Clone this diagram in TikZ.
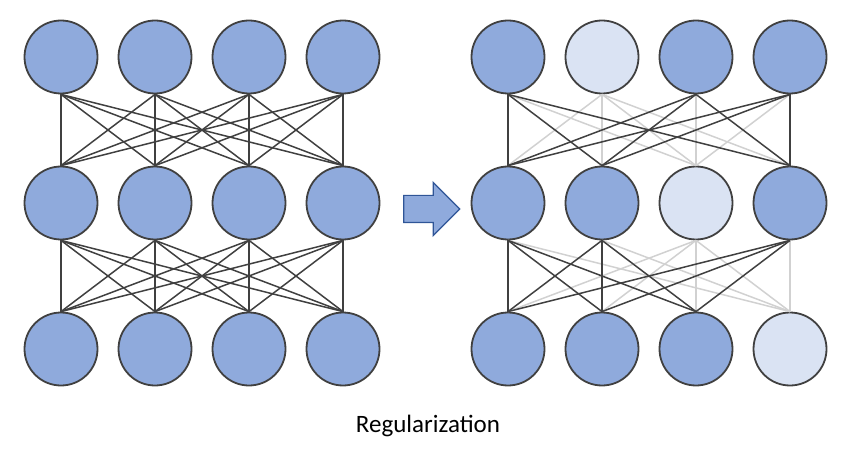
\documentclass[tikz,border=0pt]{standalone}
\usepackage{fontspec}
\setmainfont{Carlito}
\usepackage{tikz}
\usetikzlibrary{shapes.arrows}
\definecolor{unitblue}{HTML}{8FAADC}
\definecolor{droppedblue}{HTML}{DAE3F3}
\definecolor{rimgray}{HTML}{404040}
\definecolor{arrowrim}{HTML}{2F5597}
\tikzset{unit/.style={draw=rimgray,circle,fill=unitblue,line width=1.8pt,minimum size=73pt,inner sep=0pt},
  offunit/.style={unit,fill=droppedblue},
  keepedge/.style={draw=rimgray,line width=1.5pt},
  dropedge/.style={draw=black!18,line width=1.5pt}}

\begin{document}
\begin{tikzpicture}[x=1pt,y=-1pt]
    \useasboundingbox (0,0) rectangle (853,454);
    % left network, all units
    \foreach \r/\ypos in {1/57,2/203,3/349} {
      \foreach \c/\xpos in {1/61,2/155,3/249,4/343} {
        \node[unit] (L\r\c) at (\xpos,\ypos) {};
      }
    }
    \foreach \r/\s in {1/2,2/3} {
      \foreach \i in {1,...,4} {
        \foreach \j in {1,...,4} {
          \draw[keepedge] (L\r\i.south) -- (L\s\j.north);
        }
      }
    }

    \node[single arrow,draw=arrowrim,fill=unitblue,line width=1.2pt,minimum height=56pt,
      inner xsep=0pt,inner ysep=13pt,single arrow head extend=13pt] (arr) at (425,209) {};

    % right network, one unit dropped per layer
    \foreach \r/\ypos/\off in {1/57/2,2/203/3,3/349/4} {
      \foreach \c/\xpos in {1/508,2/602,3/696,4/790} {
        \ifnum\c=\off
          \node[offunit] (R\r\c) at (\xpos,\ypos) {};
        \else
          \node[unit] (R\r\c) at (\xpos,\ypos) {};
        \fi
      }
    }
    \foreach \r/\s/\dr/\ds in {1/2/2/3,2/3/3/4} {
      \foreach \i in {1,...,4} {
        \foreach \j in {1,...,4} {
          \ifnum\i=\dr \draw[dropedge] (R\r\i.south) -- (R\s\j.north);
          \else\ifnum\j=\ds \draw[dropedge] (R\r\i.south) -- (R\s\j.north);\fi\fi
        }
      }
    }
    \foreach \r/\s/\dr/\ds in {1/2/2/3,2/3/3/4} {
      \foreach \i in {1,...,4} {
        \foreach \j in {1,...,4} {
          \ifnum\i=\dr \else\ifnum\j=\ds \else
            \draw[keepedge] (R\r\i.south) -- (R\s\j.north);
          \fi\fi
        }
      }
    }

    \node[font=\fontsize{25}{30}\selectfont] (title) at (428,426) {Regularization};
\end{tikzpicture}
\end{document}
